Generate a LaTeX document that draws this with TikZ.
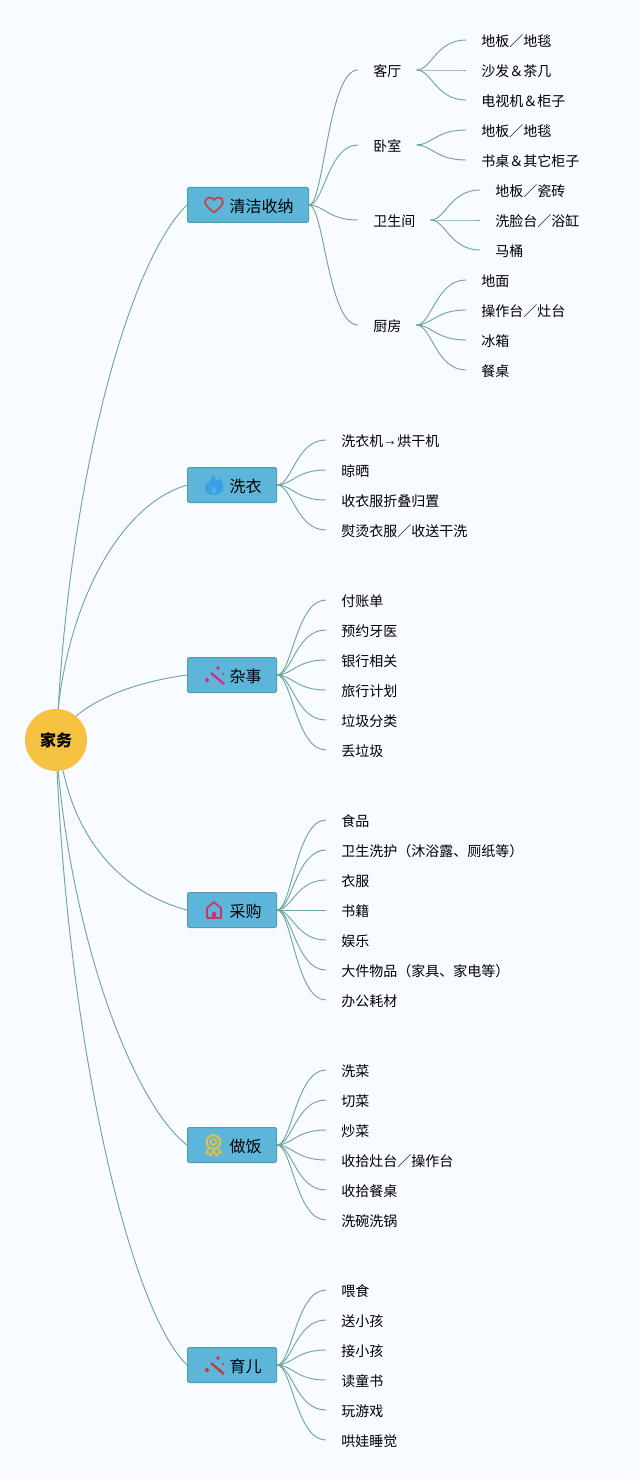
\documentclass[tikz,border=0pt]{standalone}
\usepackage{fontspec}
\setmainfont{Noto Sans CJK SC}
\definecolor{bgc}{HTML}{F8FBFF}
\definecolor{linkc}{HTML}{6FA89A}
\definecolor{boxc}{HTML}{5DB6D9}
\definecolor{boxl}{HTML}{4E9FA8}
\definecolor{rootc}{HTML}{F5C242}
\definecolor{heartc}{HTML}{BC4A50}
\definecolor{flamec}{HTML}{389FE8}
\definecolor{wandc}{HTML}{D42E7E}
\definecolor{housec}{HTML}{C9366C}
\definecolor{medalc}{HTML}{DDC24A}
\definecolor{wandr}{HTML}{C43A3E}
\newcommand{\fsz}[1]{\fontsize{#1}{#1}\selectfont}
\tikzset{
  x=0.75pt,y=-0.75pt,
  link/.style={draw=linkc,line width=0.7pt},
  rootnode/.style={circle,fill=rootc,minimum size=46.5pt,inner sep=0pt,font=\fsz{12pt}\bfseries},
  branch/.style={draw=boxl,line width=0.75pt,fill=boxc,rounded corners=1.5pt,anchor=west,inner xsep=11.25pt,inner ysep=0pt,minimum height=26.25pt,font=\fsz{12pt},text height=12pt,text depth=0.5pt},
  leaf/.style={anchor=west,inner xsep=11.25pt,inner ysep=0pt,font=\fsz{10.5pt},text height=9.5pt,text depth=0pt},
  pics/heartic/.style={code={
    \draw[heartc,line width=1.4pt,line join=round] (0,7.5) .. controls (-3,5) and (-9,0.5) .. (-9,-3) .. controls (-9,-6) and (-6.5,-7.5) .. (-4.5,-7.5) .. controls (-2.5,-7.5) and (-1,-6.5) .. (0,-5) .. controls (1,-6.5) and (2.5,-7.5) .. (4.5,-7.5) .. controls (6.5,-7.5) and (9,-6) .. (9,-3) .. controls (9,0.5) and (3,5) .. cycle;
  }},
  pics/flameic/.style={code={
    \fill[flamec] (-1,-11) .. controls (1,-6) and (3,-4) .. (4.5,-3.5) .. controls (5,-4.5) and (5,-6) .. (5,-7.5) .. controls (9,-3) and (10,2) .. (9,5) .. controls (8,8.5) and (3,10) .. (0,10) .. controls (-4,10) and (-9,7.5) .. (-9,3) .. controls (-9,-1) and (-4,-3) .. (-2.5,-6) .. controls (-1.8,-7.5) and (-1.2,-9) .. (-1,-11) -- cycle;
    \fill[boxc!70!flamec] (0,1.5) .. controls (-1,4) and (-3,5) .. (-2.5,7) .. controls (-2,9) and (2,9) .. (2.5,7) .. controls (3,5) and (1,4) .. (0,1.5) -- cycle;
  }},
  pics/wandic/.style={code={
    \draw[#1,line width=1.8pt] (-3,-3) -- (10,8);
    \fill[#1] (-7,1.5) -- (-4.5,4) -- (-7,6.5) -- (-9.5,4) -- cycle;
    \fill[#1] (4,-10) -- (6,-8) -- (4,-6) -- (2,-8) -- cycle;
    \fill[#1] (9,-3.2) -- (10.2,-2) -- (9,-.8) -- (7.8,-2) -- cycle;
  }},
  pics/houseic/.style={code={
    \draw[housec,line width=1.3pt,line join=round] (-7,8) -- (-7,-2) -- (0,-8) -- (7,-2) -- (7,8) -- cycle;
    \fill[housec] (-2,8) -- (-2,3.5) .. controls (-2,1) and (2,1) .. (2,3.5) -- (2,8) -- cycle;
  }},
  pics/medalic/.style={code={
    \draw[medalc,line width=1.5pt] (-.5,-4) circle[radius=6.8];
    \draw[medalc,line width=1.4pt] (-.5,-4) circle[radius=3];
    \draw[medalc,line width=1.4pt,line join=round] (-5,2) -- (-8,6.5) .. controls (-6,7) and (-4,8) .. (-3.5,9.5) -- (-.5,4.5) -- (2.5,9.5) .. controls (3,8) and (5,7) .. (7,6.5) -- (4,2);
  }},
}
\newcommand{\conn}[2]{\draw[link] (#1.east) .. controls +(15,0) and +(-30,0) .. (#2.west);}
\begin{document}
\begin{tikzpicture}
\useasboundingbox (0,0) rectangle (639,1480);
\fill[bgc] (0,0) rectangle (639,1480);
\newcommand{\ico}{\hspace{20.25pt}}
% root and branches
\node[rootnode] (root) at (56,740) {家务};
\node[branch] (b1) at (187,205) {\ico 清洁收纳};
\node[branch] (b2) at (187,485) {\ico 洗衣};
\node[branch] (b3) at (187,675) {\ico 杂事};
\node[branch] (b4) at (187,910) {\ico 采购};
\node[branch] (b5) at (187,1145) {\ico 做饭};
\node[branch] (b6) at (187,1365) {\ico 育儿};
\pic at (214,205) {heartic};
\pic at (214,485) {flameic};
\pic at (214,676) {wandic=wandc};
\pic at (214,910) {houseic};
\pic at (214,1146) {medalic};
\pic at (214,1366) {wandic=wandr};
% root connectors
\draw[link] (root.86) .. controls (72,470) and (130,260) .. (b1.west);
\draw[link] (root.86) .. controls (70,600) and (120,505) .. (b2.west);
\draw[link] (root.50) .. controls (105,692) and (150,680) .. (b3.west);
\draw[link] (root.-77) .. controls (80,850) and (130,895) .. (b4.west);
\draw[link] (root.-86) .. controls (75,950) and (135,1105) .. (b5.west);
\draw[link] (root.-88) .. controls (70,1050) and (130,1310) .. (b6.west);
% level 2 of branch 1
\node[leaf] (c1) at (358,70) {客厅};
\node[leaf] (c2) at (358,145) {卧室};
\node[leaf] (c3) at (358,220) {卫生间};
\node[leaf] (c4) at (358,325) {厨房};
\foreach \c in {c1,c2,c3,c4} {\conn{b1}{\c}}
\node[leaf] (c1a) at (466,40) {地板／地毯};
\node[leaf] (c1b) at (466,70) {沙发＆茶几};
\node[leaf] (c1c) at (466,100) {电视机＆柜子};
\conn{c1}{c1a}\conn{c1}{c1b}\conn{c1}{c1c}
\node[leaf] (c2a) at (466,130) {地板／地毯};
\node[leaf] (c2b) at (466,160) {书桌＆其它柜子};
\conn{c2}{c2a}\conn{c2}{c2b}
\node[leaf] (c3a) at (480,190) {地板／瓷砖};
\node[leaf] (c3b) at (480,220) {洗脸台／浴缸};
\node[leaf] (c3c) at (480,250) {马桶};
\conn{c3}{c3a}\conn{c3}{c3b}\conn{c3}{c3c}
\node[leaf] (c4a) at (466,280) {地面};
\node[leaf] (c4b) at (466,310) {操作台／灶台};
\node[leaf] (c4c) at (466,340) {冰箱};
\node[leaf] (c4d) at (466,370) {餐桌};
\conn{c4}{c4a}\conn{c4}{c4b}\conn{c4}{c4c}\conn{c4}{c4d}
% branch 2
\node[leaf] (d1) at (326,440) {洗衣机\makebox[10.5pt]{\fsz{6.5pt}→}烘干机};
\node[leaf] (d2) at (326,470) {晾晒};
\node[leaf] (d3) at (326,500) {收衣服折叠归置};
\node[leaf] (d4) at (326,530) {熨烫衣服／收送干洗};
\foreach \c in {d1,d2,d3,d4} {\conn{b2}{\c}}
% branch 3
\node[leaf] (e1) at (326,600) {付账单};
\node[leaf] (e2) at (326,630) {预约牙医};
\node[leaf] (e3) at (326,660) {银行相关};
\node[leaf] (e4) at (326,690) {旅行计划};
\node[leaf] (e5) at (326,720) {垃圾分类};
\node[leaf] (e6) at (326,750) {丢垃圾};
\foreach \c in {e1,e2,e3,e4,e5,e6} {\conn{b3}{\c}}
% branch 4
\node[leaf] (f1) at (326,820) {食品};
\node[leaf] (f2) at (326,850) {卫生洗护（沐浴露、厕纸等）};
\node[leaf] (f3) at (326,880) {衣服};
\node[leaf] (f4) at (326,910) {书籍};
\node[leaf] (f5) at (326,940) {娱乐};
\node[leaf] (f6) at (326,970) {大件物品（家具、家电等）};
\node[leaf] (f7) at (326,1000) {办公耗材};
\foreach \c in {f1,f2,f3,f4,f5,f6,f7} {\conn{b4}{\c}}
% branch 5
\node[leaf] (g1) at (326,1070) {洗菜};
\node[leaf] (g2) at (326,1100) {切菜};
\node[leaf] (g3) at (326,1130) {炒菜};
\node[leaf] (g4) at (326,1160) {收拾灶台／操作台};
\node[leaf] (g5) at (326,1190) {收拾餐桌};
\node[leaf] (g6) at (326,1220) {洗碗洗锅};
\foreach \c in {g1,g2,g3,g4,g5,g6} {\conn{b5}{\c}}
% branch 6
\node[leaf] (h1) at (326,1290) {喂食};
\node[leaf] (h2) at (326,1320) {送小孩};
\node[leaf] (h3) at (326,1350) {接小孩};
\node[leaf] (h4) at (326,1380) {读童书};
\node[leaf] (h5) at (326,1410) {玩游戏};
\node[leaf] (h6) at (326,1440) {哄娃睡觉};
\foreach \c in {h1,h2,h3,h4,h5,h6} {\conn{b6}{\c}}
\end{tikzpicture}
\end{document}
